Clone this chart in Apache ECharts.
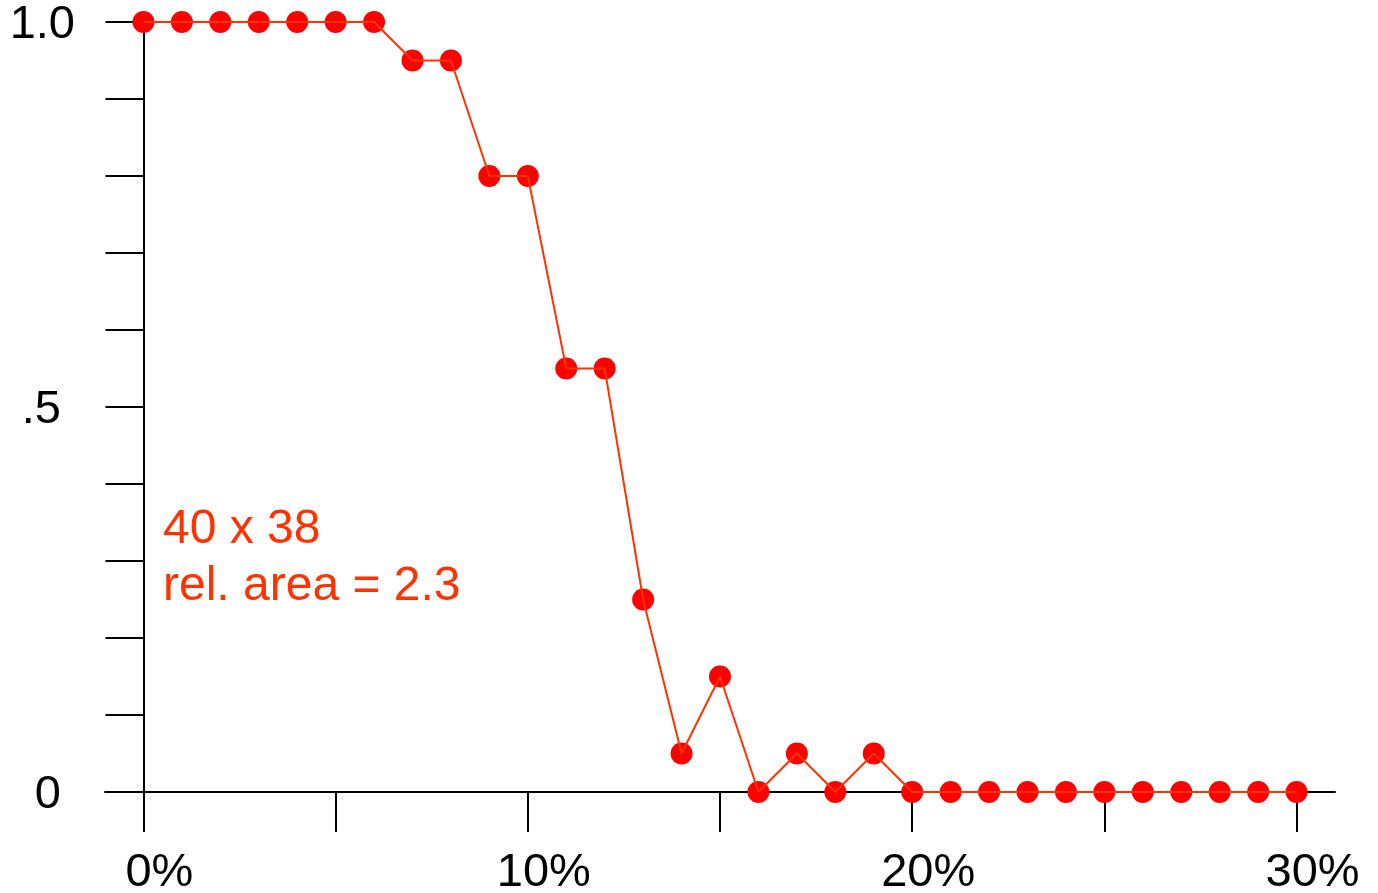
<!DOCTYPE html>
<html><head><meta charset="utf-8">
<script src="https://cdn.jsdelivr.net/npm/echarts@6/dist/echarts.min.js"></script>
<style>html,body{margin:0;padding:0;background:#fff}#c{width:1378px;height:893px}</style>
</head><body><div id="c"></div>
<script>
const xValues = [0,1,2,3,4,5,6,7,8,9,10,11,12,13,14,15,16,17,18,19,20,21,22,23,24,25,26,27,28,29,30];
const yValues = [1,1,1,1,1,1,1,0.95,0.95,0.8,0.8,0.55,0.55,0.25,0.05,0.15,0,0.05,0,0.05,0,0,0,0,0,0,0,0,0,0,0];
const xTickValues = [0,5,10,15,20,25,30];
const xLabelValues = [0,10,20,30];
const yLabelValues = [0,0.5,1];
const yLabelTexts = ['0','.5','1.0'];
const annotation = ['40 x 38','rel. area = 2.3'];

const pts = xValues.map((x,i)=>[x,yValues[i]]);
const font = '"Liberation Sans", Arial, sans-serif';
const chart = echarts.init(document.getElementById('c'), null, {renderer:'canvas'});
chart.setOption({
  animation:false,
  backgroundColor:'#fff',
  grid:{left:105,right:43,top:22,bottom:101,containLabel:false,outerBoundsMode:'none'},
  xAxis:{type:'value',min:-1,max:31,
    axisLine:{onZero:true,lineStyle:{color:'#000',width:2}},
    axisTick:{show:true,length:40,inside:false,customValues:xTickValues,lineStyle:{color:'#000',width:2}},
    axisLabel:{customValues:xLabelValues,formatter:v=>'{n|'+v+'}{p|%}',color:'#000',fontSize:47,fontFamily:font,margin:58,
      rich:{n:{fontSize:47,fontFamily:font,color:'#000',padding:[0,0,0,32]},p:{fontSize:47,fontFamily:font,color:'#000'}}},
    splitLine:{show:false}},
  yAxis:{type:'value',min:0,max:1,interval:0.1,
    axisLine:{show:true,onZero:true,lineStyle:{color:'#000',width:2}},
    axisTick:{show:true,length:38,inside:false,lineStyle:{color:'#000',width:2}},
    axisLabel:{customValues:yLabelValues,color:'#000',fontSize:47,fontFamily:font,margin:30,
      formatter:v=>{ const i=yLabelValues.findIndex(u=>Math.abs(u-v)<1e-9); if(i<0) return ''; const t=yLabelTexts[i]; return t.length>2 ? '{a|'+t+'}' : '{b|'+t+'}'; },
      rich:{a:{fontSize:47,fontFamily:font,color:'#000',padding:[6,0,0,0]},b:{fontSize:47,fontFamily:font,color:'#000',padding:[6,14,0,0]}}},
    splitLine:{show:false}},
  series:[
    {type:'scatter',data:pts,symbol:'circle',symbolSize:22,itemStyle:{color:'#ff0000',opacity:1},z:2,clip:false},
    {type:'line',data:pts,showSymbol:false,symbol:'none',lineStyle:{color:'#ff3300',width:2},z:3,clip:false}
  ],
  graphic:[{type:'text',left:163,top:501,z:10,style:{text:annotation.join('\n'),fill:'#ff3300',font:'48px '+font,lineHeight:57}}]
});
</script></body></html>
